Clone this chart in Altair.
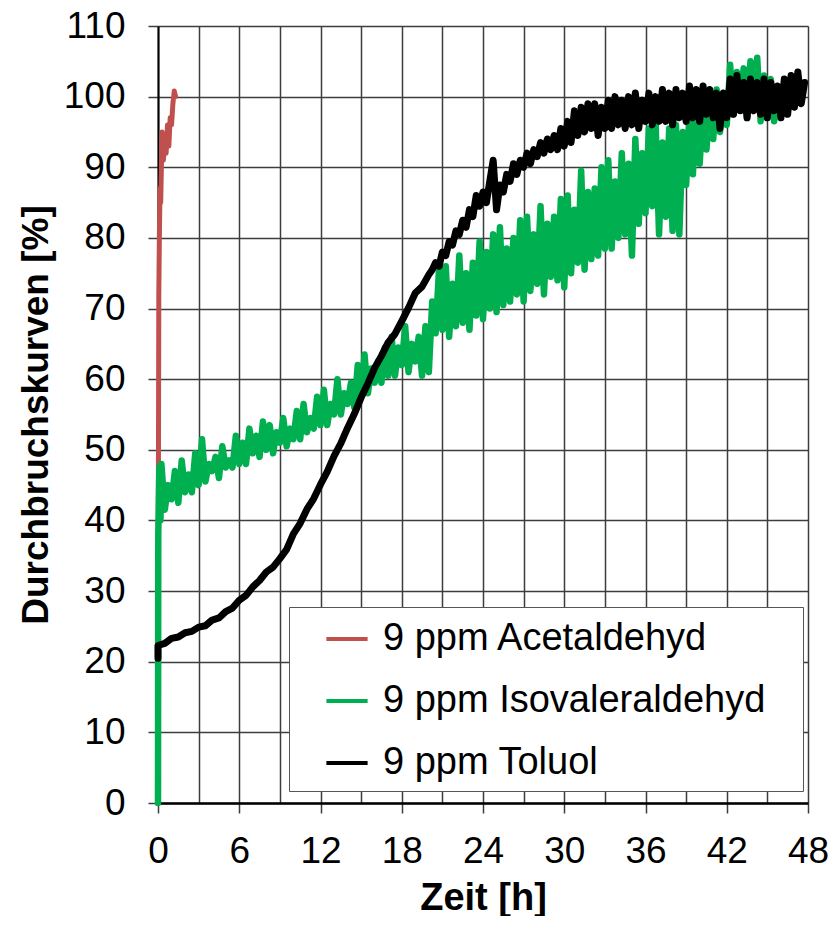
import altair as alt
import pandas as pd

# ---------------- data ----------------
series = ["9 ppm Acetaldehyd", "9 ppm Isovaleraldehyd", "9 ppm Toluol"]
colors = ["#C0504D", "#00B050", "#000000"]

# Acetaldehyd: steep rise within the first ~1.3 h
red_t = [0, 0.03, 0.06, 0.1, 0.15, 0.2, 0.25, 0.3, 0.4, 0.5, 0.6, 0.7, 0.8, 0.9, 1.0, 1.1, 1.2, 1.3]
red_v = [0, 45, 72, 80, 87, 85, 90, 95, 91, 94, 92, 96, 93, 97, 96, 99, 100.8, 100]

# Isovaleraldehyd: start segment, then samples every 0.25 h from 0.25 h
green_start_t = [0, 0.02, 0.1, 0.18]
green_start_v = [0, 38, 47.5, 40]
green_v = [
    48, 41.5, 45, 43,        # 0-1
    47, 42.5, 48.5, 44,      # 1-2
    46.5, 44, 49.5, 45,      # 2-3
    51.5, 45.5, 48, 47,      # 3-4
    49, 46, 50.5, 47.5,      # 4-5
    48.5, 47.5, 52, 48,      # 5-6
    51, 48, 53, 49.5,        # 6-7
    52, 49, 54, 50,          # 7-8
    53.5, 49.5, 52.5, 51,    # 8-9
    54.5, 50.5, 53, 51.5,    # 9-10
    55.5, 51.5, 56.5, 52.5,  # 10-11
    54.5, 53, 57.5, 53.5,    # 11-12
    58.5, 53.5, 56.5, 55,    # 12-13
    60, 55, 58, 56.5,        # 13-14
    59.5, 56, 62, 57.5,      # 14-15
    63.5, 58, 61.5, 59.5,    # 15-16
    62.5, 59.5, 64.5, 60.5,  # 16-17
    66, 60.5, 64.5, 62,      # 17-18
    67.5, 61, 65, 62.5,      # 18-19
    66, 60.5, 67.5, 61,      # 19-20
    71, 66.5, 75.5, 67,      # 20-21
    76, 66, 73.5, 67.5,      # 21-22
    77.5, 68, 75, 67,        # 22-23
    76.5, 69, 79.5, 68.5,    # 23-24
    78, 70, 80.5, 69.5,      # 24-25
    81.5, 70.5, 78.5, 71,    # 25-26
    80, 72, 82.5, 71,        # 26-27
    83, 72.5, 80.5, 73.5,    # 27-28
    84.5, 72, 82, 74.5,      # 28-29
    83, 74, 85.5, 73,        # 29-30
    86, 75, 84, 76.5,        # 30-31
    89.5, 75.5, 86.5, 77,    # 31-32
    87, 77.5, 90, 78.5,      # 32-33
    91, 78.5, 88, 80,        # 33-34
    92, 80.5, 90.5, 77.5,    # 34-35
    94, 82, 92, 83.5,        # 35-36
    95.5, 84.5, 96, 80.5,    # 36-37
    93.5, 83, 95.5, 81,      # 37-38
    96, 80.5, 95, 87.5,      # 38-39
    97, 89, 98, 90.5,        # 39-40
    98.5, 92.5, 99.5, 94,    # 40-41
    101, 95, 100.5, 96,      # 41-42
    104.5, 97.5, 103.5, 98.5,  # 42-43
    104, 97, 105, 98.5,      # 43-44
    105.5, 96.5, 103, 97.5,  # 44-45
    102.5, 96.5, 101,        # 45-45.75
]

# Toluol: start point, 0.5 h samples to 20 h, then 0.25 h samples to 47.75 h
black_start_t = [0]
black_start_v = [20.5]
black_early_v = [
    22.3, 22.6, 23.3, 23.5, 24.1, 24.3, 24.9, 25.1, 25.9, 26.2,
    27.1, 27.6, 28.7, 29.4, 30.6, 31.5, 32.7, 33.4, 34.6, 35.9,
    38.1, 39.6, 41.6, 43.1, 45.1, 46.9, 49.1, 50.9, 53.1, 55.1,
    57.4, 59.4, 61.6, 63.3, 65.2, 66.4, 68.2, 70.1, 72.2, 73.1,
    74.8,
]
black_late_v = [
    75.5, 76.5, 76, 78,          # 20.25-21
    77.5, 79.5, 79, 81,          # 21.25-22
    80.5, 82.5, 81.5, 84,        # 22.25-23
    83, 86, 84.5, 86.5,          # 23.25-24
    85, 88, 91, 84,              # 24.25-25
    87.5, 86.5, 89, 88,          # 25.25-26
    90.5, 89, 91, 90,            # 26.25-27
    92, 90.5, 92.5, 91.5,        # 27.25-28
    93.5, 92, 94, 92.5,          # 28.25-29
    94.5, 92.5, 95.5, 93,        # 29.25-30
    96.5, 93.5, 98, 94.5,        # 30.25-31
    98.5, 95, 99, 95.5,          # 31.25-32
    99, 94.5, 98.5, 95.5,        # 32.25-33
    99.5, 95.5, 100, 96,         # 33.25-34
    99.5, 95.5, 100, 96,         # 34.25-35
    100.5, 95.5, 99.5, 96.5,     # 35.25-36
    100.5, 96, 100, 96.5,        # 36.25-37
    101, 96.5, 100.5, 96,        # 37.25-38
    101, 97, 100.5, 96.5,        # 38.25-39
    101.5, 97, 101, 96.5,        # 39.25-40
    101.5, 97.5, 101, 97,        # 40.25-41
    100.5, 95.5, 100.5, 97,      # 41.25-42
    102.5, 97.5, 103, 98,        # 42.25-43
    102, 97, 102.5, 98,          # 43.25-44
    102, 97.5, 102.5, 97,        # 44.25-45
    102, 98, 101.5, 97,          # 45.25-46
    102.5, 97.5, 103, 98.5,      # 46.25-47
    103.5, 99, 102,              # 47.25-47.75
]

x_tick_values = list(range(0, 49, 3))
y_tick_values = list(range(0, 111, 10))

# ---------------- table ----------------
rows = []


def add(name, ts, vs):
    for t, v in zip(ts, vs):
        rows.append({"t": t, "v": v, "s": name, "i": len(rows)})


add(series[0], red_t, red_v)
add(series[1], green_start_t, green_start_v)
add(series[1], [0.25 * (k + 1) for k in range(len(green_v))], green_v)
add(series[2], black_start_t, black_start_v)
add(series[2], [0.5 * k for k in range(len(black_early_v))], black_early_v)
add(series[2], [20.25 + 0.25 * k for k in range(len(black_late_v))], black_late_v)
df = pd.DataFrame(rows)

GRID = "#3d3d3d"
FONT = "Liberation Sans, Arial, Helvetica, sans-serif"

x_enc = alt.X(
    "t:Q",
    scale=alt.Scale(domain=[0, 48], nice=False, zero=False),
    axis=alt.Axis(
        values=x_tick_values,
        labelExpr="datum.value % 6 === 0 ? datum.label : ''",
        labelFlush=False,
        labelOverlap=False,
        labelFont=FONT,
        labelFontSize=37,
        labelColor="black",
        labelPadding=20,
        tickSize=10,
        tickWidth=1.5,
        tickColor=GRID,
        tickOpacity={"condition": {"test": "datum.value % 6 === 0", "value": 1}, "value": 0},
        grid=True,
        gridColor=GRID,
        gridWidth=1.5,
        domainColor="black",
        domainWidth=2.5,
        title="Zeit [h]",
        titleFont=FONT,
        titleFontSize=38,
        titleFontWeight="bold",
        titleColor="black",
        titleBaseline="alphabetic",
        titleY=106,
    ),
)
y_enc = alt.Y(
    "v:Q",
    scale=alt.Scale(domain=[0, 110], nice=False, zero=False),
    axis=alt.Axis(
        values=y_tick_values,
        labelOverlap=False,
        labelFont=FONT,
        labelFontSize=37,
        labelColor="black",
        labelPadding=23,
        tickSize=10,
        tickWidth=1.5,
        tickColor=GRID,
        grid=True,
        gridColor=GRID,
        gridWidth=1.5,
        domainColor="black",
        domainWidth=2,
        title="Durchbruchskurven [%]",
        titleFont=FONT,
        titleFontSize=37,
        titleFontWeight="bold",
        titleColor="black",
        titlePadding=8,
    ),
)
color_enc = alt.Color(
    "s:N",
    scale=alt.Scale(domain=series, range=colors),
    legend=alt.Legend(
        orient="none",
        legendX=131,
        legendY=581,
        title=None,
        labelFont=FONT,
        labelFontSize=38,
        labelColor="black",
        labelLimit=600,
        labelExpr="datum.label + '\u2800'",
        symbolType="stroke",
        symbolSize=1700,
        symbolStrokeWidth=4,
        padding=9,
        symbolOffset=26,
        labelOffset=13,
        rowPadding=20,
        strokeColor="#555555",
        fillColor="white",
    ),
)

layers = []
for name, w in zip(series, [5, 6.5, 7]):
    layers.append(
        alt.Chart(df)
        .transform_filter(alt.datum.s == name)
        .mark_line(strokeWidth=w, strokeJoin="round", strokeCap="round")
        .encode(x=x_enc, y=y_enc, color=color_enc, order="i:Q")
    )

chart = (
    alt.layer(*layers)
    .properties(
        width=650,
        height=777,
        autosize=alt.AutoSizeParams(type="none"),
        padding={"left": 150, "top": 18, "right": 20, "bottom": 113},
        background="white",
    )
    .configure_view(strokeWidth=0)
)

chart.save("out.html", embed_options={"renderer": "svg", "actions": False})
